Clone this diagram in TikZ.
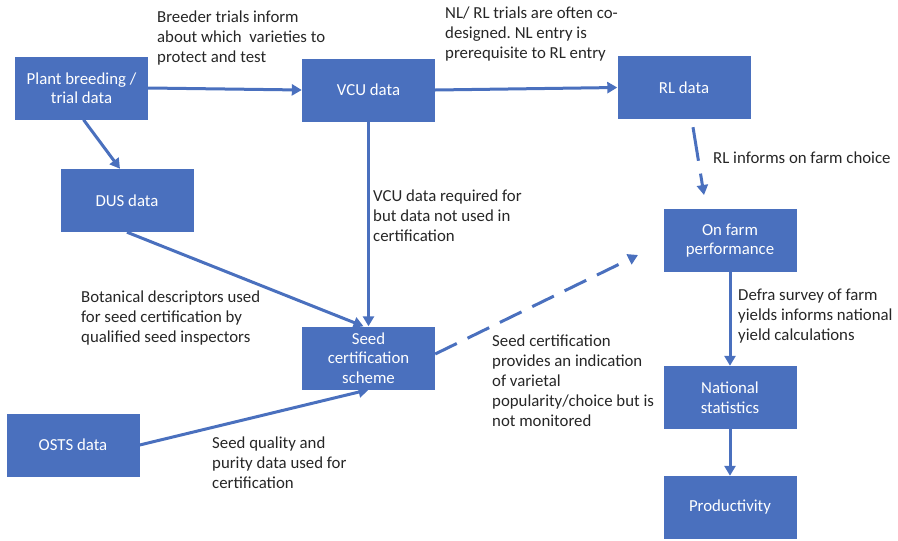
\documentclass[tikz,border=0pt]{standalone}
\usepackage{fontspec}
\setmainfont{Carlito}
\frenchspacing
\usetikzlibrary{arrows.meta}
\definecolor{boxblue}{HTML}{4A70BE}
\definecolor{txt}{HTML}{262626}
\begin{document}
\begin{tikzpicture}[x=1pt,y=-1pt,
  databox/.style={rectangle, fill=boxblue, text=white, inner sep=0pt,
    minimum width=133pt, minimum height=63pt, align=center,
    font=\fontsize{16.8}{19.5}\selectfont},
  flow/.style={draw=boxblue, line width=3pt,
    -{Triangle[length=10pt,width=11pt]}},
  dashflow/.style={flow, dash pattern=on 24pt off 12pt},
  % notes are placed by the baseline of their last line
  note/.style={anchor=base west, inner sep=0pt, align=left, text=txt,
    font=\fontsize{16.8}{19.8}\selectfont}]
\useasboundingbox (0,0) rectangle (898,541);

% data sources and outcomes
\node[databox] (plant) at (81.5,88) {Plant breeding /\\trial data};
\node[databox] (vcu) at (368.5,90) {VCU data};
\node[databox] (rl) at (684,87.5) {RL data};
\node[databox] (dus) at (127,200.5) {DUS data};
\node[databox] (seed) at (368.5,358) {Seed\\certification\\scheme};
\node[databox] (osts) at (73,445) {OSTS data};
\node[databox] (farm) at (730,240.5) {On farm\\performance};
\node[databox] (natl) at (730,397.5) {National\\statistics};
\node[databox] (prod) at (730,507.5) {Productivity};

% free ends of the dashed links
\coordinate (farmtip) at (704,195);
\coordinate (farmside) at (638,255);

% links
\draw[flow] (plant.east) -- (vcu.west);
\draw[flow] (vcu.east) -- (rl.west);
\draw[flow] ([xshift=2pt]plant.south) -- ([xshift=-7pt]dus.north);
\draw[flow] (vcu.south) -- (seed.north);
\draw[flow] (dus.south) -- ([xshift=-5pt]seed.north);
\draw[flow] (osts.east) -- (seed.south);
\draw[dashflow] ([yshift=4pt]seed.east) -- (farmside);
\draw[flow, dash pattern=on 34pt off 13pt on 40pt]
  ([xshift=9pt,yshift=-8pt]rl.south) -- (farmtip);
\draw[flow] (farm.south) -- (natl.north);
\draw[flow] (natl.south) -- (prod.north);

% link notes
\node[note] (n1) at (157,62) {Breeder trials inform\\about which\ \ varieties to\\protect and test};
\node[note] (n2) at (445,58) {NL/ RL trials are often co-\\designed. NL entry is\\prerequisite to RL entry};
\node[note] (n3) at (713,163) {RL informs on farm choice};
\node[note] (n4) at (373,241) {VCU data required for\\but data not used in\\certification};
\node[note] (n5) at (81,342) {Botanical descriptors used\\for seed certification by\\qualified seed inspectors};
\node[note] (n6) at (492,426) {Seed certification\\provides an indication\\of varietal\\popularity/choice but is\\not monitored};
\node[note] (n7) at (738,340) {Defra survey of farm\\yields informs national\\yield calculations};
\node[note] (n8) at (212,488) {Seed quality and\\purity data used for\\certification};
\end{tikzpicture}
\end{document}
